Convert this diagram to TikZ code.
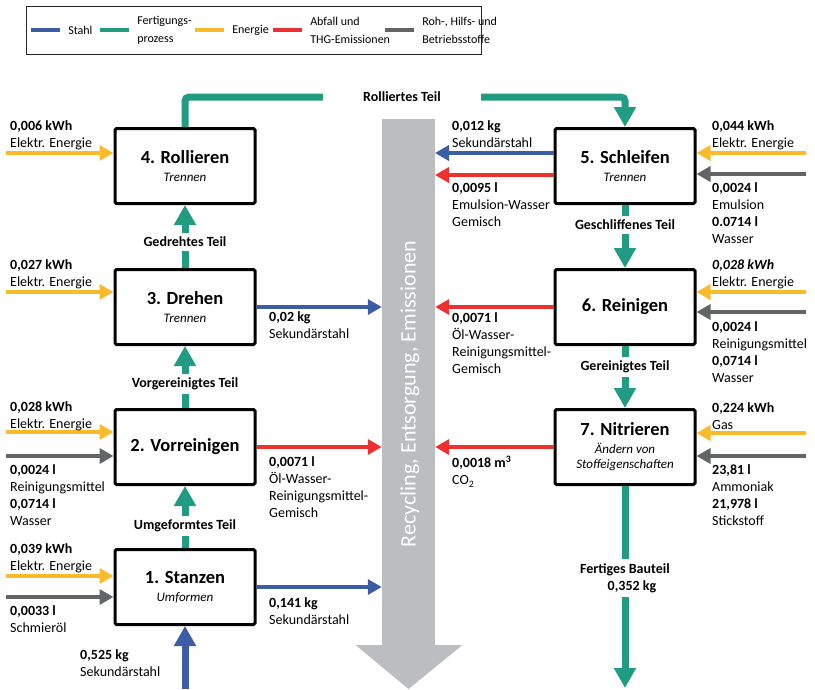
\documentclass[tikz,border=0pt]{standalone}
\usepackage{fontspec}
\setmainfont{Carlito}
\usetikzlibrary{arrows.meta, calc}
\definecolor{cblue}{HTML}{3C5DA6}
\definecolor{cgreen}{HTML}{219B82}
\definecolor{cyellow}{HTML}{FBBA2A}
\definecolor{cred}{HTML}{EE3030}
\definecolor{cgrey}{HTML}{636466}
\definecolor{cbar}{HTML}{BCBDC0}
\newcommand{\subt}[1]{{\fontsize{13}{15}\selectfont\mdseries\itshape #1}}
\tikzset{
  every picture/.style={x=1pt, y=-1pt, font=\fontsize{14}{17}\selectfont},
  box/.style={draw=black, fill=white, line width=3pt, rounded corners=1.5pt, minimum width=140pt, minimum height=75pt, align=center, font=\fontsize{18.5}{18}\selectfont\bfseries},
  flowline/.style={draw=cgreen, line width=7pt},
  flow/.style={flowline, -{Triangle[width=21pt, length=20pt]}},
  feed/.style={draw=#1, line width=4.5pt, -{Triangle[width=15pt, length=14pt]}},
  lbl/.style={anchor=north west, inner sep=0pt, align=left},
  partlbl/.style={font=\fontsize{14}{17}\selectfont\bfseries, inner sep=4pt, align=center},
  legline/.style={line width=4.5pt},
  legtext/.style={anchor=west, align=left, inner sep=6pt, font=\fontsize{12}{18}\selectfont},
}
\begin{document}
\begin{tikzpicture}
  \useasboundingbox (0,0) rectangle (815,689);
  % legend
  \node[draw=black!85, line width=1pt, minimum width=455pt, minimum height=48pt, inner sep=0pt] (leg) at (254,30.5) {};
  \foreach \x/\c/\t [count=\i] in {31/cblue/Stahl, 100/cgreen/{Fertigungs-\\prozess}, 195/cyellow/Energie, 273/cred/{Abfall und\\THG-Emissionen}, 385/cgrey/{Roh-, Hilfs- und\\Betriebsstoffe}}
    \draw[legline, draw=\c] (\x,30) -- ++(29,0) node[legtext] (leg\i) {\t};

  % recycling arrow
  \node[fill=cbar, minimum width=53pt, minimum height=526pt, inner sep=0pt] (bar) at (408.5,382) {};
  \fill[cbar] (bar.south west) -- ++(-26,0) -- (408.5,689) -- ($(bar.south east)+(27,0)$) -- cycle;
  \node[rotate=90, text=white, font=\fontsize{22}{26}\selectfont] (rec) at (410,394) {Recycling, Entsorgung, Emissionen};

  % process steps
  \node[box] (s1) at (185,587) {1. Stanzen\\\subt{Umformen}};
  \node[box] (v2) at (185,447) {2. Vorreinigen};
  \node[box] (d3) at (185,307) {3. Drehen\\\subt{Trennen}};
  \node[box] (r4) at (185,166) {4. Rollieren\\\subt{Trennen}};
  \node[box] (s5) at (625,166) {5. Schleifen\\\subt{Trennen}};
  \node[box] (r6) at (625,307) {6. Reinigen};
  \node[box] (n7) at (625,447) {7. Nitrieren\\\subt{Ändern von}\\[-3pt]\subt{Stoffeigenschaften}};

  % part flow
  \node[partlbl] (ut) at (185,526) {Umgeformtes Teil};
  \node[partlbl] (vt) at (185,384) {Vorgereinigtes Teil};
  \node[partlbl] (gt) at (185,242) {Gedrehtes Teil};
  \node[partlbl, minimum width=158pt] (rt) at (402,97) {Rolliertes Teil};
  \node[partlbl] (st) at (625,225) {Geschliffenes Teil};
  \node[partlbl] (rgt) at (625,367) {Gereinigtes Teil};
  \node[partlbl] (fb) at (625,578) {Fertiges Bauteil\\\hspace*{14pt}0,352 kg};
  \draw[flowline] (s1.north) -- (ut.south);
  \draw[flow] (ut.north) -- (v2.south);
  \draw[flowline] (v2.north) -- (vt.south);
  \draw[flow] (vt.north) -- (d3.south);
  \draw[flowline] (d3.north) -- (gt.south);
  \draw[flow] (gt.north) -- (r4.south);
  \draw[flowline, rounded corners=4pt] (r4.north) |- (rt.west);
  \draw[flow, rounded corners=4pt] (rt.east) -| (s5.north);
  \draw[flowline] (s5.south) -- (st.north);
  \draw[flow] (st.south) -- (r6.north);
  \draw[flowline] (r6.south) -- (rgt.north);
  \draw[flow] (rgt.south) -- (n7.north);
  \draw[flowline] (n7.south) -- (fb.north);
  \coordinate (fend) at (625,688);
  \draw[flow] (fb.south) -- (fend);
  \coordinate (sin) at (185,689);
  \draw[flow, draw=cblue] (sin) -- (s1.south);

  % inputs left
  \coordinate (e4) at (6,153);
  \coordinate (e3) at (6,292);
  \coordinate (e2) at (6,432);
  \coordinate (m2) at (6,456);
  \coordinate (e1) at (6,576);
  \coordinate (m1) at (6,597);
  \draw[feed=cyellow] (e4) -- (e4 -| r4.west);
  \draw[feed=cyellow] (e3) -- (e3 -| d3.west);
  \draw[feed=cyellow] (e2) -- (e2 -| v2.west);
  \draw[feed=cgrey] (m2) -- (m2 -| v2.west);
  \draw[feed=cyellow] (e1) -- (e1 -| s1.west);
  \draw[feed=cgrey] (m1) -- (m1 -| s1.west);
  % inputs right
  \coordinate (e5) at (806,153);
  \coordinate (m5) at (806,174);
  \coordinate (e6) at (806,292);
  \coordinate (m6) at (806,312);
  \coordinate (e7) at (806,433);
  \coordinate (m7) at (806,456);
  \draw[feed=cyellow] (e5) -- (e5 -| s5.east);
  \draw[feed=cgrey] (m5) -- (m5 -| s5.east);
  \draw[feed=cyellow] (e6) -- (e6 -| r6.east);
  \draw[feed=cgrey] (m6) -- (m6 -| r6.east);
  \draw[feed=cyellow] (e7) -- (e7 -| n7.east);
  \draw[feed=cgrey] (m7) -- (m7 -| n7.east);
  % outputs
  \draw[feed=cblue] (d3.east) -- (d3.east -| bar.west);
  \draw[feed=cred] (v2.east) -- (v2.east -| bar.west);
  \draw[feed=cblue] (s1.east) -- (s1.east -| bar.west);
  \coordinate (o5a) at (435,153);
  \coordinate (o5b) at (435,175);
  \draw[feed=cblue] (s5.west |- o5a) -- (o5a);
  \draw[feed=cred] (s5.west |- o5b) -- (o5b);
  \draw[feed=cred] (r6.west) -- (r6.west -| bar.east);
  \draw[feed=cred] (n7.west) -- (n7.west -| bar.east);

  % amounts
  \node[lbl] (a4) at (10,120) {\textbf{0,006 kWh}\\Elektr. Energie};
  \node[lbl] (a3) at (10,259) {\textbf{0,027 kWh}\\Elektr. Energie};
  \node[lbl] (a2) at (10,401) {\textbf{0,028 kWh}\\Elektr. Energie};
  \node[lbl] (b2) at (10,464) {\textbf{0,0024 l}\\Reinigungsmittel\\\textbf{0,0714 l}\\Wasser};
  \node[lbl] (a1) at (10,543) {\textbf{0,039 kWh}\\Elektr. Energie};
  \node[lbl] (b1) at (10,605) {\textbf{0,0033 l}\\Schmieröl};
  \node[lbl] (c1) at (80,649) {\textbf{0,525 kg}\\Sekundärstahl};
  \node[lbl] (d3o) at (269,311) {\textbf{0,02 kg}\\Sekundärstahl};
  \node[lbl] (v2o) at (269,456) {\textbf{0,0071 l}\\Öl-Wasser-\\Reinigungsmittel-\\Gemisch};
  \node[lbl] (s1o) at (269,597) {\textbf{0,141 kg}\\Sekundärstahl};
  \node[lbl] (s5o) at (452,120) {\textbf{0,012 kg}\\Sekundärstahl};
  \node[lbl] (s5w) at (452,182) {\textbf{0,0095 l}\\Emulsion-Wasser\\Gemisch};
  \node[lbl] (r6w) at (452,312) {\textbf{0,0071 l}\\Öl-Wasser-\\Reinigungsmittel-\\Gemisch};
  \node[lbl] (n7w) at (452,456) {\textbf{0,0018 m\textsuperscript{3}}\\CO\textsubscript{2}};
  \node[lbl] (a5) at (712,120) {\textbf{0,044 kWh}\\Elektr. Energie};
  \node[lbl] (b5) at (712,182) {\textbf{0,0024 l}\\Emulsion\\\textbf{0.0714 l}\\Wasser};
  \node[lbl] (a6) at (712,259) {\textbf{\textit{0,028 kWh}}\\Elektr. Energie};
  \node[lbl] (b6) at (712,321) {\textbf{0,0024 l}\\Reinigungsmittel\\\textbf{0,0714 l}\\Wasser};
  \node[lbl] (a7) at (712,402) {\textbf{0,224 kWh}\\Gas};
  \node[lbl] (b7) at (712,464) {\textbf{23,81 l}\\Ammoniak\\\textbf{21,978 l}\\Stickstoff};
\end{tikzpicture}
\end{document}
